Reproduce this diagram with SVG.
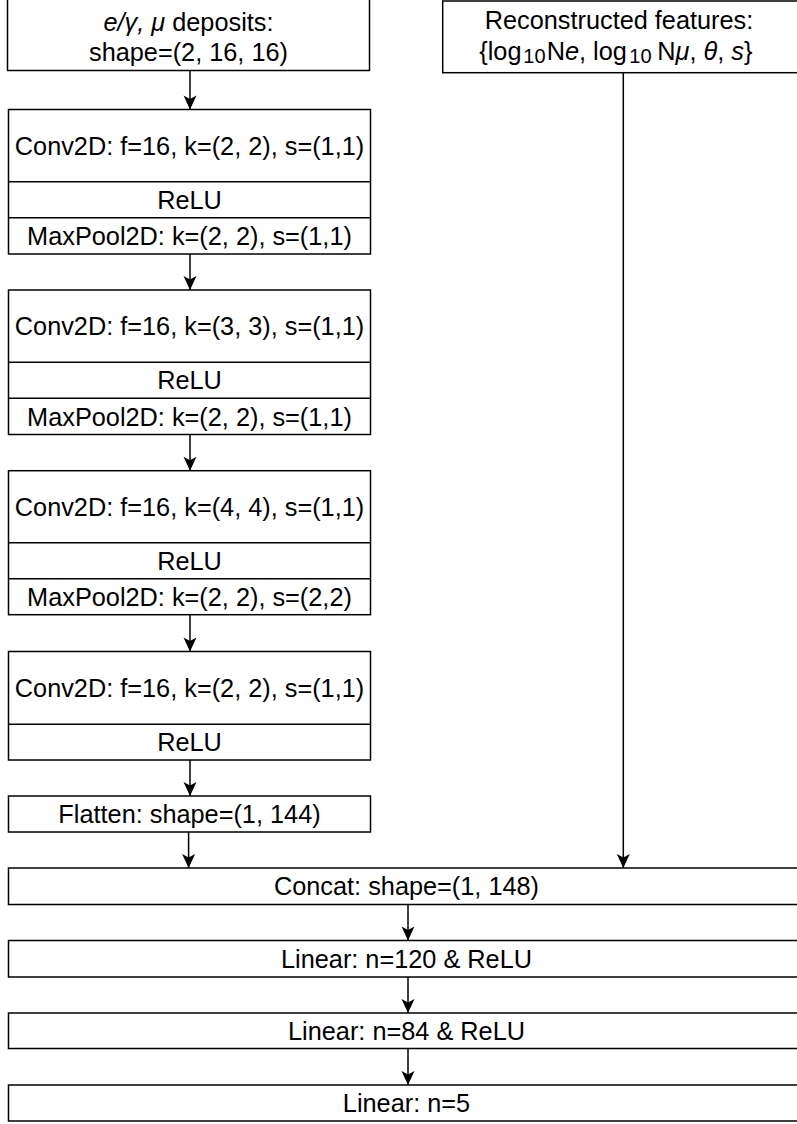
<svg xmlns="http://www.w3.org/2000/svg" width="797" height="1124" viewBox="0 0 797 1124">
<style>
.box{fill:#fff;stroke:#000;stroke-width:1.5}
.sep{stroke:#000;stroke-width:1.5}
.t{font-family:"Liberation Sans",Arial,sans-serif;font-size:25.3px;fill:#000}
.c{text-anchor:middle}
.i{font-style:italic}
.sub{font-size:20px}
.edge{stroke:#000;stroke-width:1.5;fill:none}
</style>
<defs>
<marker id="ah" markerUnits="userSpaceOnUse" markerWidth="16" markerHeight="16" viewBox="-15 -8 16 16" refX="0" refY="0" orient="auto">
<path d="M0,0 L-14,-6.5 L-10.5,0 L-14,6.5 Z" fill="#000"/>
</marker>
</defs>
<rect width="797" height="1124" fill="#fff"/>

<g id="input-deposits">
<rect class="box" x="7.5" y="-1" width="362" height="71.5"/>
<text class="t c" x="188.5" y="31"><tspan class="i">e/γ, μ</tspan> deposits:</text>
<text class="t c" x="188.5" y="61">shape=(2, 16, 16)</text>
</g>

<g id="input-features">
<rect class="box" x="442.7" y="1" width="360" height="71.7"/>
<text class="t c" x="619" y="29">Reconstructed features:</text>
<text class="t" y="60"><tspan x="479.3">{log</tspan><tspan class="sub" x="523.3" y="63">10</tspan><tspan x="546.7" y="60">N</tspan><tspan class="i">e</tspan>, log<tspan class="sub" x="629.3" y="63">10</tspan><tspan x="657.3" y="60">N</tspan><tspan class="i">μ</tspan>, <tspan class="i">θ</tspan>, <tspan class="i">s</tspan>}</text>
</g>

<g id="block1">
<rect class="box" x="8.5" y="109.5" width="362" height="144.5"/>
<line class="sep" x1="8.5" y1="181.7" x2="370.5" y2="181.7"/>
<line class="sep" x1="8.5" y1="217.7" x2="370.5" y2="217.7"/>
<text class="t c" x="189.5" y="154.8">Conv2D: f=16, k=(2, 2), s=(1,1)</text>
<text class="t c" x="189.5" y="208.5">ReLU</text>
<text class="t c" x="189.5" y="245">MaxPool2D: k=(2, 2), s=(1,1)</text>
</g>

<g id="block2">
<rect class="box" x="8.5" y="290" width="362" height="144.5"/>
<line class="sep" x1="8.5" y1="362.2" x2="370.5" y2="362.2"/>
<line class="sep" x1="8.5" y1="398.2" x2="370.5" y2="398.2"/>
<text class="t c" x="189.5" y="335.3">Conv2D: f=16, k=(3, 3), s=(1,1)</text>
<text class="t c" x="189.5" y="389">ReLU</text>
<text class="t c" x="189.5" y="425.5">MaxPool2D: k=(2, 2), s=(1,1)</text>
</g>

<g id="block3">
<rect class="box" x="8.5" y="470.7" width="362" height="144"/>
<line class="sep" x1="8.5" y1="542.7" x2="370.5" y2="542.7"/>
<line class="sep" x1="8.5" y1="578.7" x2="370.5" y2="578.7"/>
<text class="t c" x="189.5" y="515.8">Conv2D: f=16, k=(4, 4), s=(1,1)</text>
<text class="t c" x="189.5" y="569.5">ReLU</text>
<text class="t c" x="189.5" y="606">MaxPool2D: k=(2, 2), s=(2,2)</text>
</g>

<g id="block4">
<rect class="box" x="8.5" y="651.5" width="362" height="108.5"/>
<line class="sep" x1="8.5" y1="724.2" x2="370.5" y2="724.2"/>
<text class="t c" x="189.5" y="696.8">Conv2D: f=16, k=(2, 2), s=(1,1)</text>
<text class="t c" x="189.5" y="751">ReLU</text>
</g>

<g id="flatten">
<rect class="box" x="8.5" y="796" width="362" height="36"/>
<text class="t c" x="189.5" y="823">Flatten: shape=(1, 144)</text>
</g>

<g id="concat">
<rect class="box" x="8.5" y="868" width="798" height="36.5"/>
<text class="t c" x="406.5" y="895.3">Concat: shape=(1, 148)</text>
</g>

<g id="linear1">
<rect class="box" x="8.5" y="940.5" width="798" height="36.5"/>
<text class="t c" x="406.5" y="967.8">Linear: n=120 &amp; ReLU</text>
</g>

<g id="linear2">
<rect class="box" x="8.5" y="1013" width="798" height="35.5"/>
<text class="t c" x="406.5" y="1039.8">Linear: n=84 &amp; ReLU</text>
</g>

<g id="linear3">
<rect class="box" x="8.5" y="1085" width="798" height="36"/>
<text class="t c" x="406.5" y="1112">Linear: n=5</text>
</g>

<g id="connectors">
<line class="edge" x1="190" y1="70.5" x2="190" y2="109.5" marker-end="url(#ah)"/>
<line class="edge" x1="190" y1="254" x2="190" y2="290" marker-end="url(#ah)"/>
<line class="edge" x1="190" y1="434.5" x2="190" y2="470.7" marker-end="url(#ah)"/>
<line class="edge" x1="190" y1="614.7" x2="190" y2="651.5" marker-end="url(#ah)"/>
<line class="edge" x1="190" y1="760" x2="190" y2="796" marker-end="url(#ah)"/>
<line class="edge" x1="188.6" y1="832" x2="188.6" y2="868" marker-end="url(#ah)"/>
<line class="edge" x1="623.3" y1="72.7" x2="623.3" y2="868" marker-end="url(#ah)"/>
<line class="edge" x1="408" y1="904.5" x2="408" y2="940.5" marker-end="url(#ah)"/>
<line class="edge" x1="408" y1="977" x2="408" y2="1013" marker-end="url(#ah)"/>
<line class="edge" x1="408" y1="1048.5" x2="408" y2="1085" marker-end="url(#ah)"/>
</g>
</svg>
